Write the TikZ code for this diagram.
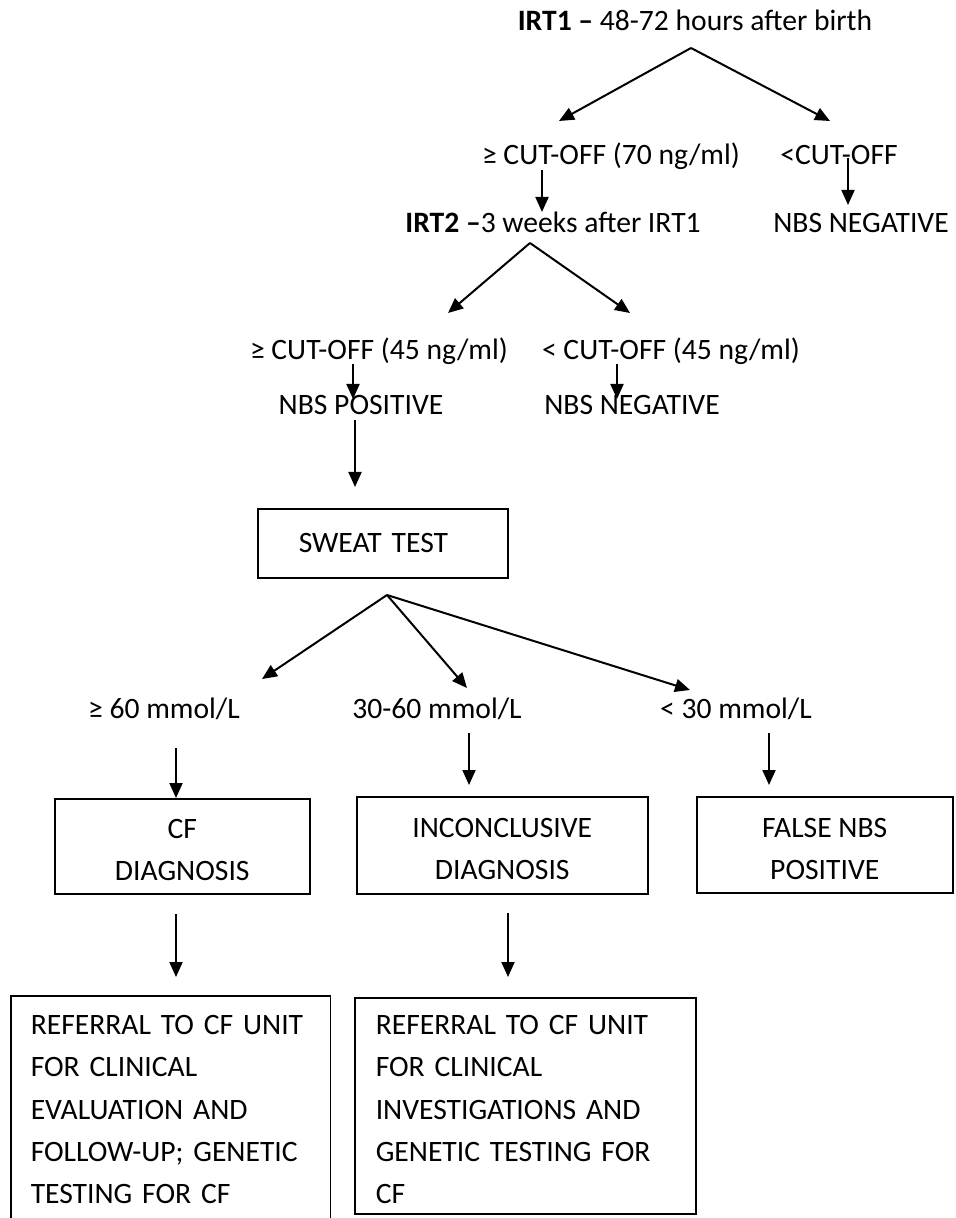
\documentclass[tikz,border=0pt]{standalone}
\usepackage{fontspec}
\setmainfont{Carlito}
\usetikzlibrary{arrows.meta}
\begin{document}
\begin{tikzpicture}[x=0.5pt,y=-0.5pt,
  txt/.style={inner sep=0pt, anchor=base, font=\fontsize{14.8}{21}\selectfont},
  cbox/.style={draw, line width=0.75pt, anchor=north west, align=center, inner sep=0pt,
    font=\fontsize{14.8}{21}\selectfont},
  lbox/.style={line width=0.75pt, anchor=north west, align=left, inner ysep=0pt,
    font=\fontsize{14.8}{21.15}\selectfont},
  arr/.style={-{Triangle[length=7.5pt,width=6.5pt]}, line width=1pt}]
\useasboundingbox (0,0) rectangle (955,1218);

% ---- texts ----
\node[txt] (irt1) at (695,31) {\textbf{IRT1 –} 48-72 hours after birth};
\node[txt] (cut70) at (611,165) {≥ CUT-OFF (70 ng/ml)};
\node[txt] (cutlo) at (839,165) {<CUT-OFF};
\node[txt] (irt2) at (553,233) {\textbf{IRT2 –}3 weeks after IRT1};
\node[txt] (neg1) at (861,233) {NBS NEGATIVE};
\node[txt] (cut45) at (379,360) {≥ CUT-OFF (45 ng/ml)};
\node[txt] (cut45lo) at (671,360) {< CUT-OFF (45 ng/ml)};
\node[txt] (pos) at (361,415) {NBS POSITIVE};
\node[txt] (neg2) at (632,415) {NBS NEGATIVE};
\node[txt] (m60) at (164,718) {≥ 60 mmol/L};
\node[txt] (m3060) at (437,718) {30-60 mmol/L};
\node[txt] (m30) at (736,718) {< 30 mmol/L};

% ---- boxes ----
\node[draw, line width=0.75pt, anchor=north west, minimum width=125pt, minimum height=34.5pt,
  text width=84pt, inner xsep=20.5pt, inner ysep=0pt, align=left,
  font=\fontsize{14.8}{21}\selectfont] (sweat) at (257,508) {SWEAT TEST};
\node[cbox, minimum width=127.5pt, minimum height=47.5pt] (cf) at (54,798)
  {\rule{0pt}{13.5pt}CF\\DIAGNOSIS};
\node[cbox, minimum width=145.5pt, minimum height=48.5pt] (inc) at (356,796)
  {\rule{0pt}{13.5pt}INCONCLUSIVE\\DIAGNOSIS};
\node[cbox, minimum width=128pt, minimum height=48pt] (false) at (696,796)
  {\rule{0pt}{13.5pt}FALSE NBS\\POSITIVE};
\node[lbox, text width=140pt, inner xsep=9.5pt, minimum height=113pt] (ref1) at (11,996)
  {REFERRAL TO CF UNIT\\FOR CLINICAL\\EVALUATION AND\\FOLLOW-UP; GENETIC\\TESTING FOR CF};
\draw[line width=0.75pt] (ref1.south west) -- (ref1.north west) -- (ref1.north east) -- (ref1.south east);
\node[lbox, draw, text width=149.5pt, inner xsep=10.5pt, minimum height=108pt] (ref2) at (354,997)
  {\rule{0pt}{13.5pt}REFERRAL TO CF UNIT\\FOR CLINICAL\\INVESTIGATIONS AND\\GENETIC TESTING FOR\\CF};

% ---- connector points ----
\coordinate (ap1) at (691,48);
\coordinate (t1l) at (559,121);
\coordinate (t1r) at (830,121);
\coordinate (s2l) at (542,170); \coordinate (e2l) at (542,212);
\coordinate (s2r) at (848,158); \coordinate (e2r) at (848,205);
\coordinate (ap2) at (530,243);
\coordinate (t2l) at (448,313);
\coordinate (t2r) at (630,313);
\coordinate (s4l) at (353,364); \coordinate (e4l) at (353,399);
\coordinate (s4r) at (617,364); \coordinate (e4r) at (617,399);
\coordinate (s5) at (355,420); \coordinate (e5) at (355,487);
\coordinate (ap3) at (387,595);
\coordinate (t3a) at (262,679);
\coordinate (t3b) at (467,688);
\coordinate (t3c) at (690,690);
\coordinate (s6a) at (176,748); \coordinate (e6a) at (176,798);
\coordinate (s6b) at (469,733); \coordinate (e6b) at (469,785);
\coordinate (s6c) at (769,733); \coordinate (e6c) at (769,785);
\coordinate (s7a) at (176,914); \coordinate (e7a) at (176,977);
\coordinate (s7b) at (508,913); \coordinate (e7b) at (508,977);

% ---- connectors ----
\draw[arr] (ap1) -- (t1l);
\draw[arr] (ap1) -- (t1r);
\draw[arr] (s2l) -- (e2l);
\draw[arr] (s2r) -- (e2r);
\draw[arr] (ap2) -- (t2l);
\draw[arr] (ap2) -- (t2r);
\draw[arr] (s4l) -- (e4l);
\draw[arr] (s4r) -- (e4r);
\draw[arr] (s5) -- (e5);
\draw[arr] (ap3) -- (t3a);
\draw[arr] (ap3) -- (t3b);
\draw[arr] (ap3) -- (t3c);
\draw[arr] (s6a) -- (e6a);
\draw[arr] (s6b) -- (e6b);
\draw[arr] (s6c) -- (e6c);
\draw[arr] (s7a) -- (e7a);
\draw[arr] (s7b) -- (e7b);
\end{tikzpicture}
\end{document}
